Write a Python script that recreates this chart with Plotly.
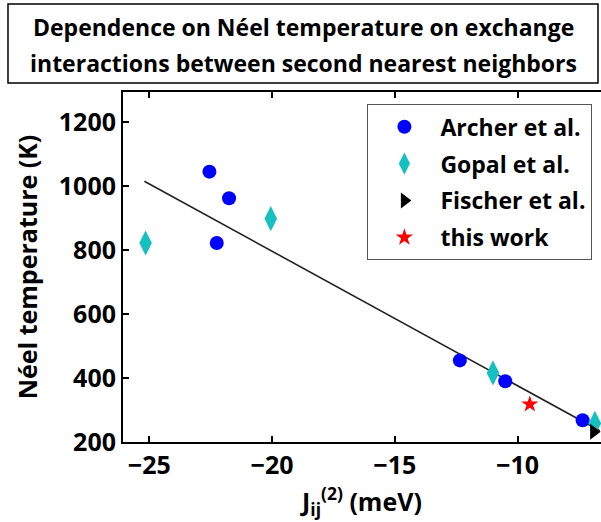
import plotly.graph_objects as go

archer_x = [-22.55, -21.75, -22.25, -12.35, -10.5, -7.35]
archer_y = [1045, 962, 822, 455, 390, 268]
gopal_x = [-25.15, -20.05, -11.0, -6.85]
gopal_y = [822, 898, 416, 258]
fischer_x = [-6.9]
fischer_y = [232]
this_x = [-9.5]
this_y = [318]
fit_x = [-25.2, -6.65]
fit_y = [1015, 235]

title_lines = ["Dependence on Néel temperature on exchange",
               "interactions between second nearest neighbors"]

FONT = "Open Sans"
fig = go.Figure()
fig.add_trace(go.Scatter(x=fit_x, y=fit_y, mode="lines", line=dict(color="#222222", width=1.6),
                         showlegend=False, hoverinfo="skip"))
fig.add_trace(go.Scatter(x=archer_x, y=archer_y, mode="markers", name="Archer et al.", legendgroup="a",
                         marker=dict(symbol="circle", size=14, color="#0000ff")))
fig.add_trace(go.Scatter(x=gopal_x, y=gopal_y, mode="markers", name="Gopal et al.", legendgroup="b",
                         marker=dict(symbol="diamond-tall", size=18, color="#17c0c0")))
fig.add_trace(go.Scatter(x=fischer_x, y=fischer_y, mode="markers", name="Fischer et al.", legendgroup="c",
                         marker=dict(symbol="triangle-right", size=14, color="black")))
fig.add_trace(go.Scatter(x=this_x, y=this_y, mode="markers", name="this work", legendgroup="d",
                         marker=dict(symbol="star", size=13, color="#ff0000")))

anns = []
for txt, yy in zip(title_lines, [1.1857, 1.0829]):
    anns.append(dict(text=txt, x=0.3766, y=yy, xref="paper", yref="paper",
                     xanchor="center", yanchor="middle", showarrow=False,
                     font=dict(family=FONT, size=23, color="black", weight="bold")))

fig.update_layout(
    width=601, height=522,
    margin=dict(l=123, r=0, t=92, b=80),
    plot_bgcolor="white", paper_bgcolor="white",
    font=dict(family=FONT, color="black"),
    showlegend=True,
    legend=dict(x=0.982, y=0.965, xanchor="right", yanchor="top",
                bordercolor="#555555", borderwidth=1, bgcolor="white",
                font=dict(family=FONT, size=23, color="black", weight="bold"),
                tracegroupgap=4, itemwidth=62),
    annotations=anns,
    shapes=[dict(type="rect", xref="paper", yref="paper", x0=-0.2406, x1=0.9937,
                 y0=1.0257, y1=1.2514, line=dict(color="black", width=1.5))],
)
fig.update_xaxes(range=[-26.07, -6.6], tickvals=[-25, -20, -15, -10],
                 ticktext=["−25", "−20", "−15", "−10"],
                 ticks="inside", ticklen=6, tickwidth=1.5, tickcolor="black",
                 showline=True, linewidth=2, linecolor="black", mirror="ticks",
                 showgrid=False, zeroline=False,
                 tickfont=dict(family=FONT, size=25, weight="bold"),
                 title=dict(text="J<sub>ij</sub><sup>(2)</sup> (meV)", standoff=8,
                            font=dict(family=FONT, size=25, weight="bold")))
fig.update_yaxes(range=[200, 1294], tickvals=[200, 400, 600, 800, 1000, 1200],
                 ticks="inside", ticklen=6, tickwidth=1.5, tickcolor="black",
                 showline=True, linewidth=2, linecolor="black",
                 showgrid=False, zeroline=False,
                 tickfont=dict(family=FONT, size=25, weight="bold"),
                 title=dict(text="Néel temperature (K)", standoff=14,
                            font=dict(family=FONT, size=25, weight="bold")))
fig.write_html("out.html")
